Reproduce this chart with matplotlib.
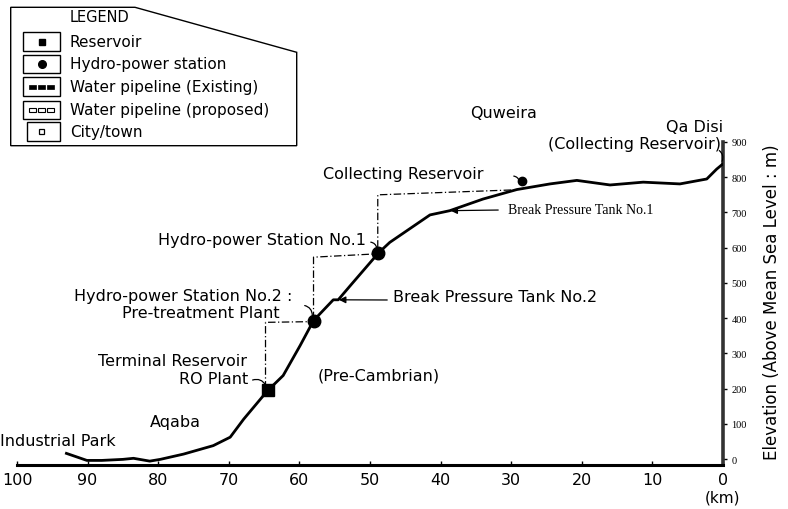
import matplotlib
matplotlib.use("Agg")
import matplotlib.pyplot as plt
from matplotlib.patches import Polygon, Rectangle

# ---------------- data ----------------
profile_km = [93.0, 90.1, 88.0, 85.0, 83.5, 81.2, 79.7, 76.4, 72.2, 69.8, 67.9, 65.1, 64.4,
              62.3, 59.9, 58.0, 55.2, 54.5, 52.8, 48.8, 47.2, 41.5, 38.7, 34.0, 29.2,
              24.5, 20.7, 16.0, 11.3, 6.1, 2.3, 0.9, 0.0]
profile_elev = [16, -4, -4, -1, 2, -6, -1, 14, 38, 62, 113, 180, 196,
                237, 322, 393, 452, 452, 492, 585, 615, 693, 705, 738, 765,
                781, 791, 778, 786, 781, 795, 823, 838]

pipe_a_km = [64.8, 64.8, 58.3]
pipe_a_elev = [200, 388, 390]
pipe_b_km = [58.0, 58.0, 49.5]
pipe_b_elev = [397, 573, 582]
pipe_c_km = [48.9, 48.9, 29.7]
pipe_c_elev = [600, 750, 764]

reservoir_km = [64.4]
reservoir_elev = [196]
hydro_km = [58.0, 48.8]
hydro_elev = [393, 585]
collect_km = [28.5]
collect_elev = [790]

x_ticks = [100, 90, 80, 70, 60, 50, 40, 30, 20, 10, 0]
y_ticks = [0, 100, 200, 300, 400, 500, 600, 700, 800, 900]

legend_items = ["Reservoir", "Hydro-power station", "Water pipeline (Existing)",
                "Water pipeline (proposed)", "City/town"]

# ---------------- figure ----------------
W, H = 788, 510
fig = plt.figure(figsize=(W / 100, H / 100), dpi=100)
FONT = "DejaVu Sans"
SERIF = "Liberation Serif"


def F(px, py):
    return (px / W, 1 - py / H)


ax = fig.add_axes([17 / W, (H - 466) / H, 706 / W, 323 / H])
ax.set_xlim(100, 0)
ax.set_ylim(-17, 900)
for s in ["top", "left"]:
    ax.spines[s].set_visible(False)
ax.spines["bottom"].set_linewidth(2.2)
ax.spines["right"].set_linewidth(2.6)
ax.spines["right"].set_color("#333333")

ax.set_xticks(x_ticks)
ax.set_xticklabels([str(v) for v in x_ticks], fontsize=11.5, family=FONT)
ax.tick_params(axis="x", direction="in", length=3, width=1, pad=5)
ax.yaxis.tick_right()
ax.set_yticks(y_ticks)
ax.set_yticklabels([str(v) for v in y_ticks], fontsize=7.5, family=SERIF)
ax.tick_params(axis="y", direction="out", length=3, width=1, pad=3)

# profile
ax.plot(profile_km, profile_elev, color="black", lw=2.0, solid_joinstyle="round", zorder=3)
# pipelines (dash-dot)
for xs, ys in [(pipe_a_km, pipe_a_elev), (pipe_b_km, pipe_b_elev), (pipe_c_km, pipe_c_elev)]:
    ax.plot(xs, ys, color="black", lw=0.9, ls=(0, (6, 2, 1, 2)), zorder=2)
# markers
ax.plot(reservoir_km, reservoir_elev, "s", color="black", ms=9, zorder=4)
ax.plot(hydro_km, hydro_elev, "o", color="black", ms=9, zorder=4)
ax.plot(collect_km, collect_elev, "o", color="black", ms=6, zorder=4)

# ---------------- texts ----------------
tk = dict(fontsize=11.5, family=FONT, va="center")
fig.text(*F(0, 442), "Industrial Park", ha="left", **tk)
fig.text(*F(150, 423), "Aqaba", ha="left", **tk)
fig.text(*F(247, 362), "Terminal Reservoir", ha="right", **tk)
fig.text(*F(248, 380), "RO Plant", ha="right", **tk)
fig.text(*F(318, 376), "(Pre-Cambrian)", ha="left", **tk)
fig.text(*F(292, 296), "Hydro-power Station No.2 :", ha="right", **tk)
fig.text(*F(280, 314), "Pre-treatment Plant", ha="right", **tk)
fig.text(*F(393, 297), "Break Pressure Tank No.2", ha="left", **tk)
fig.text(*F(366, 241), "Hydro-power Station No.1", ha="right", **tk)
fig.text(*F(323, 174), "Collecting Reservoir", ha="left", **tk)
fig.text(*F(508, 211), "Break Pressure Tank No.1", ha="left", fontsize=10,
         family=SERIF, va="center")
fig.text(*F(470, 113), "Quweira", ha="left", **tk)
fig.text(*F(723, 127), "Qa Disi", ha="right", **tk)
fig.text(*F(721, 145), "(Collecting Reservoir)", ha="right", **tk)
fig.text(*F(772, 302), "Elevation (Above Mean Sea Level : m)", ha="center", va="center",
         rotation=90, fontsize=12, family=FONT)
fig.text(*F(722, 498), "(km)", ha="center", va="center", fontsize=11, family=FONT)

# leaders
lead = dict(arrowstyle="-", lw=0.9, color="black", connectionstyle="arc3,rad=-0.5")
ax.annotate("", xy=(64.6, 203), xytext=F(250, 382), textcoords="figure fraction", arrowprops=lead)
ax.annotate("", xy=(58.2, 400), xytext=F(302, 306), textcoords="figure fraction", arrowprops=lead)
ax.annotate("", xy=(49.0, 592), xytext=F(368, 243), textcoords="figure fraction", arrowprops=lead)
ax.annotate("", xy=(28.8, 782), xytext=F(511, 177), textcoords="figure fraction", arrowprops=lead)
ax.annotate("", xy=(0.3, 838), xytext=F(717, 150), textcoords="figure fraction", arrowprops=lead)
arr = dict(arrowstyle="-|>", lw=0.9, color="black", mutation_scale=10)
ax.annotate("", xy=(54.8, 452), xytext=F(390, 301), textcoords="figure fraction", arrowprops=arr)
ax.annotate("", xy=(39.0, 705), xytext=F(501, 211), textcoords="figure fraction", arrowprops=arr)

# ---------------- legend (drawn in pixel overlay) ----------------
ov = fig.add_axes([0, 0, 1, 1], facecolor="none")
ov.set_xlim(0, W)
ov.set_ylim(H, 0)
ov.axis("off")
ov.add_patch(Polygon([(10.7, 8.3), (135, 8.3), (296.7, 53.3), (296.7, 146.7), (10.7, 146.7)],
                     closed=True, fill=False, lw=1.0, ec="black"))
ov.text(70, 18, "LEGEND", fontsize=10.5, family=FONT, va="center", ha="left")
rows = [(33, 52), (56, 74), (78, 97), (102, 120), (123, 142)]
for i, ((y0, y1), lab) in enumerate(zip(rows, legend_items)):
    x0 = 27 if i == 4 else 23
    ov.add_patch(Rectangle((x0, y0), 60 - x0, y1 - y0, fill=False, lw=1.0, ec="black"))
    ov.text(70, (y0 + y1) / 2, lab, fontsize=11, family=FONT, va="center", ha="left")
    yc = (y0 + y1) / 2
    if i == 0:
        ov.plot([41.7], [yc], "s", color="black", ms=4)
    elif i == 1:
        ov.plot([41.7], [yc], "o", color="black", ms=5.5)
    elif i == 2:
        for xc in [33, 42, 51]:
            ov.add_patch(Rectangle((xc - 3.5, yc - 2), 7, 4, fc="black", ec="black", lw=0.5))
    elif i == 3:
        for xc in [33, 42, 51]:
            ov.add_patch(Rectangle((xc - 3.5, yc - 2), 7, 4, fc="white", ec="black", lw=0.8))
    else:
        ov.add_patch(Rectangle((39, yc - 3), 5, 5, fc="white", ec="black", lw=0.9))

fig.savefig("out.png", dpi=100)
